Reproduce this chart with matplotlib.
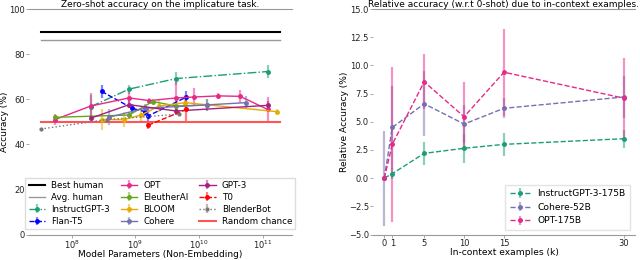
import numpy as np
import matplotlib
matplotlib.use("Agg")
import matplotlib.pyplot as plt
from matplotlib.ticker import LogLocator, NullLocator

# ---- left panel: zero-shot accuracy vs model size (log10 of non-embedding params) ----
instruct_x = [8.30, 8.90, 9.64, 11.07]
instruct_y = [56.7, 64.5, 69.2, 72.3]
instruct_e = [5.0, 2.0, 2.7, 3.0]

flan_x = [8.47, 8.95, 9.15, 9.20, 9.80]
flan_y = [63.5, 56.0, 54.5, 52.6, 61.0]
flan_e = [2.8, 2.0, 2.0, 4.0, 2.5]

opt_x = [7.74, 8.30, 8.90, 9.22, 9.64, 9.92, 10.30, 10.64, 11.07]
opt_y = [51.0, 57.0, 60.6, 59.4, 60.6, 61.0, 61.5, 61.3, 55.5]
opt_e = [2.5, 6.0, 4.0, 1.0, 7.0, 4.0, 1.5, 3.0, 5.5]

eleuther_x = [7.74, 8.90, 9.27, 9.64, 10.12]
eleuther_y = [52.0, 53.0, 59.0, 57.0, 57.5]
eleuther_e = [1.0, 1.5, 1.0, 1.5, 2.5]

bloom_x = [8.47, 8.82, 9.09, 9.37, 9.78, 11.22]
bloom_y = [51.0, 51.0, 53.0, 57.0, 58.5, 54.5]
bloom_e = [4.5, 3.5, 2.5, 2.5, 3.5, 1.0]

cohere_x = [8.58, 9.15, 10.12, 10.73]
cohere_y = [52.0, 56.0, 57.5, 58.5]
cohere_e = [3.5, 2.0, 2.5, 3.0]

gpt3_x = [8.30, 8.90, 9.64, 11.07]
gpt3_y = [51.6, 57.6, 54.8, 57.3]
gpt3_e = [1.5, 1.5, 2.0, 2.0]

t0_x = [9.20, 9.80]
t0_y = [48.5, 55.5]
t0_e = [1.5, 6.0]

blender_x = [7.52, 8.55, 9.69]
blender_y = [46.8, 51.0, 53.4]
blender_e = [0.5, 0.5, 0.5]

human_span = [7.52, 11.26]
best_human = 89.8
avg_human = 86.2
random_chance = 50.0

legend_order = ["Best human", "Avg. human", "InstructGPT-3", "Flan-T5",
                "OPT", "EleutherAI", "BLOOM", "Cohere",
                "GPT-3", "T0", "BlenderBot", "Random chance"]

# ---- right panel: relative accuracy vs number of in-context examples ----
k_shots = [0, 1, 5, 10, 15, 30]
rel_instruct = [0.0, 0.4, 2.2, 2.65, 3.0, 3.5]
rel_instruct_e = [0.0, 0.5, 1.0, 1.3, 1.0, 0.8]
rel_cohere = [0.0, 4.5, 6.6, 4.8, 6.2, 7.2]
rel_cohere_e = [4.2, 3.7, 2.9, 1.7, 0.9, 1.9]
rel_opt = [0.0, 3.0, 8.55, 5.45, 9.4, 7.1]
rel_opt_e = [0.0, 6.85, 2.45, 3.05, 3.85, 3.6]

C_INS, C_OPT, C_ELE = "#1b9e77", "#e7298a", "#66a61e"
C_BLO, C_COH, C_GPT = "#e6ab02", "#7570b3", "#a4217f"

plt.rcParams.update({"font.size": 6.3, "axes.edgecolor": "#999999",
                     "xtick.color": "#222222", "ytick.color": "#222222"})

fig = plt.figure(figsize=(6.4, 2.6), dpi=100)
ax1 = fig.add_axes([0.045, 0.098, 0.411, 0.867])
ax2 = fig.add_axes([0.583, 0.098, 0.409, 0.867])

def p(xs): return [10 ** v for v in xs]

def eb(ax, x, y, e, c, ls, label, ms=2.5):
    ax.errorbar(x, y, yerr=e, color=c, ls=ls, lw=1, marker="o", ms=ms,
                elinewidth=1.6, ecolor=matplotlib.colors.to_rgba(c, 0.5), label=label)

hx = p(human_span)
ax1.plot(hx, [best_human] * 2, color="black", lw=1.5, label="Best human")
ax1.plot(hx, [avg_human] * 2, color="#999999", lw=1, label="Avg. human")
eb(ax1, p(instruct_x), instruct_y, instruct_e, C_INS, "-.", "InstructGPT-3")
eb(ax1, p(flan_x), flan_y, flan_e, "blue", "--", "Flan-T5")
eb(ax1, p(opt_x), opt_y, opt_e, C_OPT, "-", "OPT")
eb(ax1, p(eleuther_x), eleuther_y, eleuther_e, C_ELE, "-", "EleutherAI")
eb(ax1, p(bloom_x), bloom_y, bloom_e, C_BLO, "-", "BLOOM")
eb(ax1, p(cohere_x), cohere_y, cohere_e, C_COH, "-", "Cohere")
eb(ax1, p(gpt3_x), gpt3_y, gpt3_e, C_GPT, "-", "GPT-3")
eb(ax1, p(t0_x), t0_y, t0_e, "red", "--", "T0")
eb(ax1, p(blender_x), blender_y, blender_e, "#777777", ":", "BlenderBot", ms=2)
ax1.plot(hx, [random_chance] * 2, color="#ff5555", lw=1.5, label="Random chance")

ax1.set_xscale("log")
ax1.set_xlim(10 ** 7.33, 10 ** 11.45)
ax1.set_ylim(0, 100)
ax1.xaxis.set_major_locator(LogLocator(base=10, numticks=10))
ax1.xaxis.set_minor_locator(NullLocator())
ax1.set_yticks([0, 20, 40, 60, 80, 100])
ax1.set_xlabel("Model Parameters (Non-Embedding)", labelpad=-0.5, fontsize=6.5)
ax1.set_ylabel("Accuracy (%)", labelpad=0, fontsize=6.6)
ax1.set_title("Zero-shot accuracy on the implicature task.", fontsize=6.5, pad=0.5)

h, l = ax1.get_legend_handles_labels()
hmap = dict(zip(l, h))
ax1.legend([hmap[k] for k in legend_order], legend_order, ncol=3, loc="lower center",
           bbox_to_anchor=(0.5, 0.005), fontsize=6.3, fancybox=False, framealpha=1,
           edgecolor="#dddddd", handlelength=1.9, handletextpad=0.7, columnspacing=1.2,
           labelspacing=0.35, borderpad=0.35)

eb(ax2, k_shots, rel_instruct, rel_instruct_e, C_INS, "--", "InstructGPT-3-175B")
eb(ax2, k_shots, rel_cohere, rel_cohere_e, C_COH, "--", "Cohere-52B")
eb(ax2, k_shots, rel_opt, rel_opt_e, C_OPT, "--", "OPT-175B")
ax2.set_xlim(-1.4, 31.4)
ax2.set_ylim(-5, 15)
ax2.set_xticks(k_shots)
ax2.set_yticks(np.arange(-5, 15.1, 2.5))
ax2.set_xlabel("In-context examples (k)", labelpad=0, fontsize=6.6)
ax2.set_ylabel("Relative Accuracy (%)", labelpad=0, fontsize=6.6)
ax2.set_title("Relative accuracy (w.r.t 0-shot) due to in-context examples.", fontsize=6.5, pad=0.5)
ax2.legend(loc="lower right", fontsize=6.6, fancybox=False, edgecolor="#dddddd",
           labelspacing=0.5, borderpad=0.5, handlelength=2.2)

for ax in (ax1, ax2):
    for s in ("left", "right"):
        ax.spines[s].set_visible(False)
    ax.tick_params(length=2, width=0.6, pad=1, color="#999999", labelsize=6)

fig.savefig("out.png", dpi=100)
